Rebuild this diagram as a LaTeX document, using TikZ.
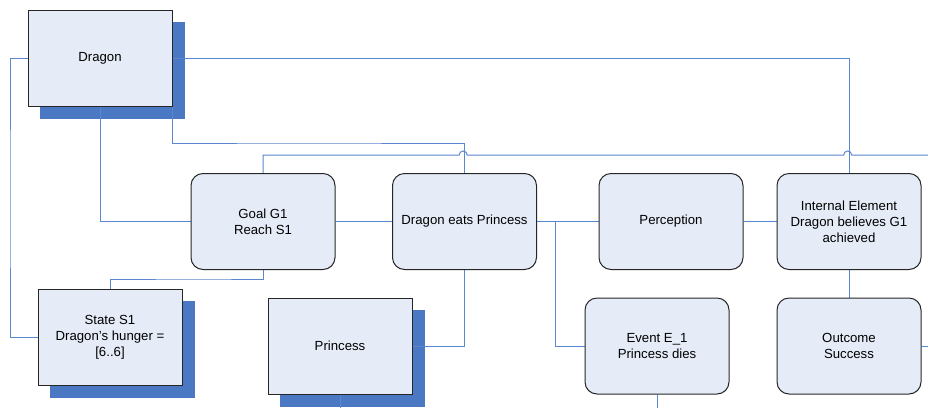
\documentclass[tikz,border=0pt]{standalone}
\usepackage{fontspec}
\setmainfont{Liberation Sans}
\begin{document}
\definecolor{boxfill}{HTML}{E6ECF7}
\definecolor{shadowblue}{HTML}{4A78C2}
\definecolor{wire}{HTML}{5A87D0}
\pgfdeclarelayer{shadow}
\pgfdeclarelayer{wires}
\pgfsetlayers{shadow,wires,main}
\tikzset{
  every node/.style={font=\fontsize{9.9}{12}\selectfont, align=center, inner sep=1pt},
  entity/.style={rectangle, draw=black!85, line width=0.75pt, fill=boxfill,
                 minimum width=108pt, minimum height=72pt},
  element/.style={entity, rounded corners=9pt},
  wire/.style={draw=wire, line width=0.75pt},
  shade/.style={fill=shadowblue}
}
\begin{tikzpicture}[x=0.75pt, y=-0.75pt]
  \useasboundingbox (0,0) rectangle (928,408);

  % entities (square boxes with drop shadow)
  \node[entity] (dragon)   at (100,58.5) {Dragon};
  \node[entity] (s1)       at (110,337)  {State S1\\Dragon’s hunger =\\{}[6..6]};
  \node[entity] (princess) at (340,346)  {Princess};

  % story elements (rounded boxes)
  \node[element] (goal)       at (263,221.5)   {Goal G1\\Reach S1};
  \node[element] (eats)       at (464.5,221.5) {Dragon eats Princess};
  \node[element] (perception) at (671,221.5)   {Perception};
  \node[element] (internal)   at (849,221.5)   {Internal Element\\Dragon believes G1\\achieved};
  \node[element] (event)      at (657,346)     {Event E\_1\\Princess dies};
  \node[element] (outcome)    at (849,346)     {Outcome\\Success};

  % drop shadows
  \begin{pgfonlayer}{shadow}
    \foreach \n in {dragon,s1,princess}
      \fill[shade] ([shift={(12,12)}]\n.south west) rectangle ([shift={(12,12)}]\n.north east);
  \end{pgfonlayer}

  % bend points and loose ends
  \coordinate (leftrail) at (10,200);
  \coordinate (toprail)  at (300,143);
  \coordinate (lowrail)  at (200,279);
  \coordinate (split)    at (555,221.5);
  \coordinate (hopA)     at (464.5,155);
  \coordinate (hopB)     at (849,155);
  \coordinate (endTop)   at (928,155);
  \coordinate (endOut)   at (928,346);
  \coordinate (endEvent) at (657,408);
  \coordinate (endPrin)  at (340,408);

  % connectors
  \begin{pgfonlayer}{wires}
    \draw[wire] (dragon.west) -| (leftrail) |- (s1.west);
    \draw[wire] (dragon.east) -| (internal.north);
    \draw[wire] (dragon.south) |- (goal.west);
    \draw[wire] (dragon.south east) |- (toprail) -| (eats.north);
    \draw[wire] (goal.north) |- ([xshift=-4]hopA)
                arc[start angle=180, end angle=0, radius=3pt]
                -- ([xshift=-4]hopB)
                arc[start angle=180, end angle=0, radius=3pt]
                -- (endTop);
    \draw[wire] (s1.north) |- (lowrail) -| (goal.south);
    \draw[wire] (goal.east) -- (eats.west);
    \draw[wire] (eats.east) -- (perception.west);
    \draw[wire] (split) |- (event.west);
    \draw[wire] (perception.east) -- (internal.west);
    \draw[wire] (internal.south) -- (outcome.north);
    \draw[wire] (outcome.east) -- (endOut);
    \draw[wire] (event.south) -- (endEvent);
    \draw[wire] (princess.east) -| (eats.south);
    \draw[wire] (princess.south) -- (endPrin);
  \end{pgfonlayer}
\end{tikzpicture}
\end{document}
